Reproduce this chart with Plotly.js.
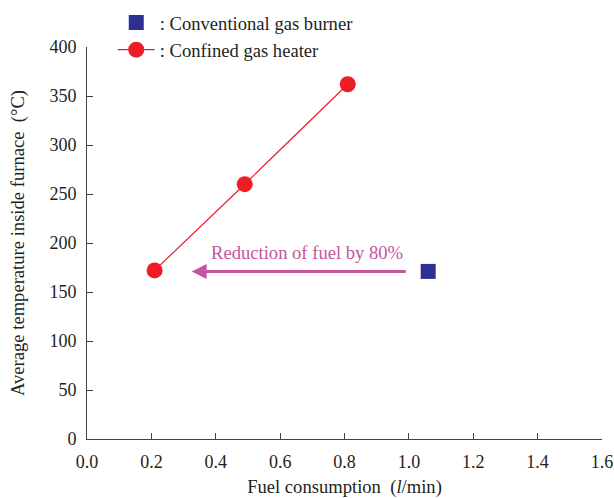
<!DOCTYPE html>
<html>
<head>
<meta charset="utf-8">
<script src="https://cdn.plot.ly/plotly-3.0.1.min.js"></script>
<style>html,body{margin:0;padding:0;background:#fff;}#chart{width:614px;height:498px;}</style>
</head>
<body>
<div id="chart"></div>
<script>
const heaterX = [0.21, 0.49, 0.81];
const heaterY = [172, 260, 362];
const burnerX = [1.06];
const burnerY = [171];
const xTicks = [0, 0.2, 0.4, 0.6, 0.8, 1.0, 1.2, 1.4, 1.6];
const xTickLabels = ['0.0', '0.2', '0.4', '0.6', '0.8', '1.0', '1.2', '1.4', '1.6'];
const yTicks = [0, 50, 100, 150, 200, 250, 300, 350, 400];
const arrowFrom = [0.995, 171];
const arrowTo = [0.325, 171];
const arrowText = 'Reduction of fuel by 80%';

const fam = '"Liberation Serif", "Times New Roman", serif';
const font = {family: fam, size: 18, color: '#231f20'};
const bigFont = {family: fam, size: 18.6, color: '#231f20'};
const data = [
  {x: burnerX, y: burnerY, mode: 'markers', type: 'scatter', name: ': Conventional gas burner',
   marker: {symbol: 'square', size: 15, color: '#2e3192'}},
  {x: heaterX, y: heaterY, mode: 'lines+markers', type: 'scatter', name: ': Confined gas heater',
   line: {color: '#ee1c25', width: 1.2}, marker: {symbol: 'circle', size: 16, color: '#ee1c25'}}
];
const layout = {
  width: 614, height: 498,
  margin: {l: 87, r: 12, t: 47, b: 59, autoexpand: false},
  paper_bgcolor: '#fff', plot_bgcolor: '#fff',
  font: font,
  showlegend: true,
  legend: {x: 0.05, y: 1.11, xanchor: 'left', yanchor: 'top', font: bigFont, bgcolor: 'rgba(0,0,0,0)',
           itemwidth: 37, tracegroupgap: 0, traceorder: 'normal'},
  xaxis: {range: [0, 1.6], tickvals: xTicks, ticktext: xTickLabels, ticks: 'inside', ticklen: 6,
          tickcolor: '#444', showline: true, linecolor: '#444', linewidth: 1, showgrid: false, zeroline: false,
          ticklabelstandoff: 6,
          tickfont: font, title: {text: 'Fuel consumption  (<i>l</i>/min)', font: bigFont, standoff: 10}},
  yaxis: {range: [0, 400], tickvals: yTicks, ticks: 'inside', ticklen: 6,
          tickcolor: '#444', showline: true, linecolor: '#444', linewidth: 1, showgrid: false, zeroline: false,
          ticklabelstandoff: 6,
          tickfont: font, title: {text: 'Average temperature inside furnace  (°C)', font: bigFont, standoff: 19}},
  annotations: [
    {x: arrowTo[0], y: arrowTo[1], ax: arrowFrom[0], ay: arrowFrom[1], xref: 'x', yref: 'y', axref: 'x', ayref: 'y',
     showarrow: true, arrowhead: 2, arrowsize: 1, arrowwidth: 3, arrowcolor: '#c555a0', text: ''},
    {x: 0.685, y: 190, xref: 'x', yref: 'y', text: arrowText, showarrow: false,
     font: {family: fam, size: 18.6, color: '#c555a0'}}
  ]
};
Plotly.newPlot('chart', data, layout, {displayModeBar: false});
</script>
</body>
</html>
